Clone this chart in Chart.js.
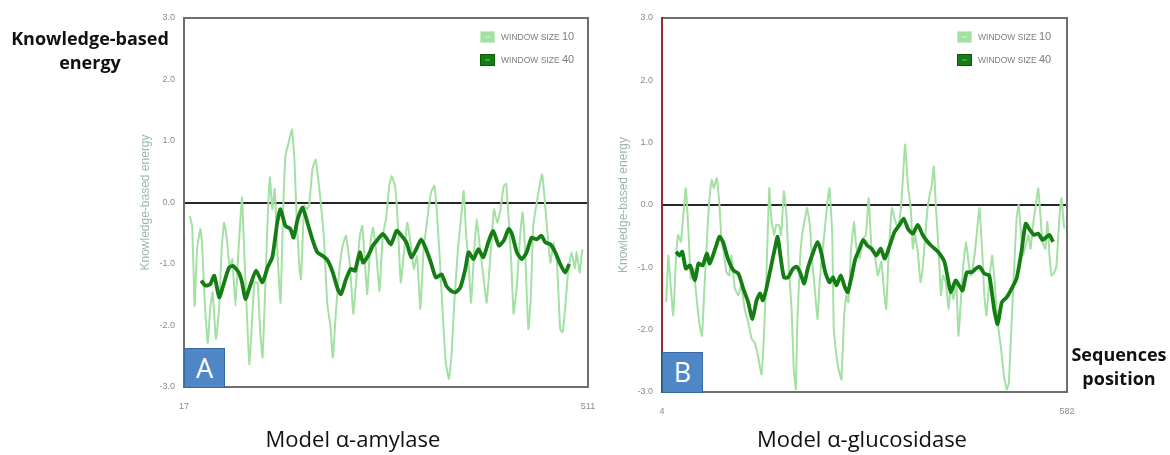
<!DOCTYPE html>
<html><head><meta charset="utf-8">
<script src="https://cdn.jsdelivr.net/npm/chart.js@4.4.1/dist/chart.umd.min.js"></script>
<style>
html,body{margin:0;padding:0;background:#fff;width:1170px;height:455px;overflow:hidden;position:relative;font-family:"Open Sans",sans-serif}
canvas{position:absolute;top:0}
.lbl{position:absolute;font-weight:700;color:#111;text-align:center;line-height:24px;font-size:18px;white-space:nowrap}
.cap{position:absolute;font-size:22px;color:#111;transform:translateX(-50%);white-space:nowrap;line-height:26px}
.tag{position:absolute;background:#4f86c6;border:1px solid #3a6aa5;color:#fff;font-size:27px;line-height:38px;text-align:center;box-sizing:border-box;font-family:"Open Sans",sans-serif}
</style></head><body>
<canvas id="ca" width="475" height="430" style="left:130px"></canvas>
<canvas id="cb" width="475" height="430" style="left:608px"></canvas>
<div class="lbl" style="left:0;top:26px;width:180px">Knowledge-based<br>energy</div>
<div class="lbl" style="left:1067px;top:342px;width:104px">Sequences<br>position</div>
<div class="cap" style="left:353px;top:425px">Model α-amylase</div>
<div class="cap" style="left:862px;top:425px">Model α-glucosidase</div>
<div class="tag" style="left:184px;top:348px;width:41px;height:40px">A</div>
<div class="tag" style="left:662px;top:352px;width:41px;height:41px">B</div>
<script>
// ---- Panel A : Model α-amylase ----
const amylaseRange = [17, 511];
const amylaseW10Pos = [24,27,30,33,37,39,42,46,49,52,56,60,63,66,69,73,76,80,83,86,88,91,94,97,101,103,107,110,113,116,119,122,125,128,131,135,138,141,145,149,152,155,158,160,164,167,170,174,178,183,185,188,192,196,199,203,207,211,215,220,224,228,232,235,238,241,245,248,252,256,260,264,268,271,275,278,282,286,290,294,298,302,306,310,315,319,323,326,330,334,337,341,344,348,352,356,359,362,365,368,372,375,379,383,387,392,396,400,404,408,411,414,417,420,424,428,431,434,438,441,444,449,451,455,458,461,465,469,473,477,480,483,487,491,495,497,501,504];
const amylaseW10Val = [-0.22,-0.38,-1.68,-0.76,-0.43,-0.65,-1.52,-2.28,-1.73,-1.46,-2.22,-1.73,-0.76,-0.33,-0.54,-1.08,-0.92,-1.68,-0.92,-0.27,0.08,-0.92,-1.84,-2.63,-1.73,-1.30,-1.30,-2.06,-2.52,-1.52,-0.38,0.41,-0.11,0.22,-0.76,-1.63,-0.22,0.76,0.98,1.19,0.70,-0.33,-1.03,-1.25,-0.05,-0.11,-0.05,0.54,0.70,0.16,-0.11,-0.54,-1.63,-2.01,-2.52,-1.73,-1.08,-0.70,-0.54,-1.03,-1.81,-1.19,-0.54,-0.38,-0.92,-1.49,-0.65,-0.41,-0.81,-1.44,-0.54,-0.27,0.27,0.43,0.27,-0.22,-1.30,-0.81,-0.33,-0.65,-1.08,-0.87,-1.73,-0.76,-0.22,0.16,0.27,-0.11,-0.98,-1.95,-2.60,-2.87,-2.50,-1.52,-0.76,-0.22,0.19,-0.54,-0.98,-1.63,-0.76,-0.27,-0.76,-1.19,-1.63,-0.81,-0.11,-0.33,-0.11,0.27,0.30,-0.27,-0.92,-1.81,-1.36,-0.54,-0.16,-0.76,-2.06,-1.57,-0.38,0.05,0.22,0.46,0.05,-0.43,-0.98,-0.65,-0.98,-2.06,-2.11,-1.73,-1.08,-0.81,-1.08,-0.81,-1.14,-0.76];
const amylaseW40Pos = [38,43,49,54,60,65,72,77,84,88,92,98,105,113,119,125,131,135,141,147,151,156,162,168,174,180,187,193,199,205,209,215,221,226,232,236,242,248,254,260,264,270,277,283,289,295,301,307,313,319,325,332,338,344,349,355,361,365,371,377,383,389,395,402,408,414,418,424,430,436,442,448,454,459,465,471,477,483,488];
const amylaseW40Val = [-1.27,-1.35,-1.33,-1.19,-1.54,-1.35,-1.06,-1.03,-1.14,-1.30,-1.57,-1.35,-1.11,-1.30,-1.06,-0.89,-0.33,-0.11,-0.38,-0.43,-0.57,-0.27,-0.08,-0.33,-0.60,-0.81,-0.87,-0.95,-1.14,-1.41,-1.49,-1.25,-1.08,-1.11,-0.81,-0.98,-0.87,-0.70,-0.60,-0.51,-0.57,-0.68,-0.46,-0.54,-0.65,-0.89,-0.76,-0.60,-0.76,-0.98,-1.22,-1.17,-1.36,-1.44,-1.46,-1.38,-1.08,-0.81,-0.92,-0.76,-0.89,-0.65,-0.46,-0.70,-0.62,-0.43,-0.51,-0.81,-0.92,-0.81,-0.57,-0.60,-0.54,-0.65,-0.68,-0.81,-1.00,-1.14,-1.00];

// ---- Panel B : Model α-glucosidase ----
const glucosidaseRange = [4, 582];
const glucosidaseW10Pos = [10,13,16,20,24,27,31,34,38,42,45,49,53,57,61,64,68,71,75,78,82,86,89,92,96,100,103,108,113,117,122,127,132,136,141,146,149,153,157,160,164,167,171,174,178,182,185,189,192,195,197,201,204,208,211,215,218,222,226,229,232,236,240,243,247,249,253,256,260,264,267,270,274,278,281,286,291,295,299,303,307,312,317,321,324,327,332,336,341,345,349,351,355,359,362,365,369,373,376,379,383,387,389,392,395,399,402,405,409,413,416,420,424,427,431,434,438,442,445,450,453,457,461,464,467,471,475,478,483,488,492,496,499,503,507,510,513,516,519,523,527,530,534,537,541,544,547,551,554,557,560,564,567,571,574,578];
const glucosidaseW10Val = [-1.56,-0.81,-1.24,-1.77,-0.86,-0.48,-0.59,-0.22,0.27,-0.48,-1.18,-1.02,-1.45,-1.88,-2.10,-1.45,-0.59,0.00,0.40,0.27,0.43,0.00,-0.59,-0.75,-1.08,-1.13,-0.81,-1.34,-1.45,-1.29,-1.67,-1.88,-2.15,-2.20,-2.42,-2.72,-2.20,-1.13,0.27,-0.22,-0.48,-0.32,-0.32,-0.48,0.22,-0.22,-1.02,-1.67,-2.63,-2.96,-1.94,-0.86,-0.48,-0.22,-0.05,-0.32,-0.86,-1.34,-1.83,-1.24,-0.86,-0.43,0.05,0.27,-0.48,-1.94,-2.42,-2.63,-2.80,-1.77,-1.45,-1.56,-0.70,-0.27,-0.65,-0.86,-0.54,-0.48,0.11,-0.70,-0.75,-1.13,-0.91,-1.40,-1.67,-0.91,-0.05,-0.22,-0.38,-0.05,0.65,0.97,0.32,-0.05,-0.70,-0.48,-0.75,-1.24,-1.02,-0.59,-0.05,0.22,0.32,0.62,-0.05,-0.75,-1.45,-1.13,-1.24,-1.67,-1.29,-1.51,-1.24,-2.10,-1.45,-0.97,-0.59,-0.97,-1.13,-0.81,-0.48,-0.05,-0.75,-1.45,-1.77,-1.24,-0.81,-1.13,-1.88,-2.31,-2.74,-2.96,-2.85,-1.88,-0.91,-0.22,0.00,-0.38,-0.81,-0.65,-0.48,-0.70,-0.27,-0.05,0.27,-0.16,-0.59,-0.70,-0.27,-0.81,-1.13,-1.08,-0.97,-0.22,0.11,-0.38];
const glucosidaseW40Pos = [24,29,33,38,44,51,56,62,68,72,80,86,91,98,106,113,120,127,133,139,144,148,153,159,165,169,173,178,184,191,196,201,207,212,220,226,231,237,243,248,253,259,265,269,274,280,286,291,297,303,310,316,322,329,336,343,349,355,362,369,376,383,388,393,400,407,412,416,423,428,433,439,446,452,457,464,471,478,483,489,496,503,510,517,523,529,535,541,547,553,557,562];
const glucosidaseW40Val = [-0.75,-0.81,-0.75,-1.02,-0.97,-1.21,-0.94,-0.97,-0.78,-0.94,-0.70,-0.51,-0.59,-0.86,-1.05,-1.10,-1.34,-1.56,-1.83,-1.53,-1.42,-1.53,-1.34,-1.02,-0.70,-0.51,-0.81,-1.16,-1.16,-1.02,-0.99,-1.08,-1.26,-1.02,-0.75,-0.59,-0.75,-1.08,-1.24,-1.16,-1.29,-1.13,-1.32,-1.40,-1.18,-0.86,-0.70,-0.56,-0.65,-0.70,-0.81,-0.70,-0.86,-0.65,-0.43,-0.32,-0.22,-0.38,-0.46,-0.32,-0.48,-0.59,-0.65,-0.70,-0.78,-0.91,-1.18,-1.40,-1.21,-1.29,-1.37,-1.08,-1.08,-1.02,-0.99,-1.10,-1.13,-1.67,-1.91,-1.56,-1.48,-1.34,-1.18,-0.75,-0.30,-0.40,-0.48,-0.46,-0.56,-0.51,-0.48,-0.59];

// ---- shared labels / ticks ----
const seriesLabels = ['Window size 10', 'Window size 40'];
const yTicks = [-3, -2, -1, 0, 1, 2, 3];
const yAxisTitle = 'Knowledge-based energy';

const toPts = (pos, val) => pos.map((p, i) => ({x: p, y: val[i]}));

const framePlugin = {
  id: 'frame',
  afterDatasetsDraw(chart, args, opts) {
    const {ctx, chartArea: {left, top, right, bottom}} = chart;
    ctx.save();
    ctx.lineWidth = 2;
    ctx.strokeStyle = '#6e6e6e';
    ctx.beginPath();
    ctx.moveTo(left, top); ctx.lineTo(right, top); ctx.lineTo(right, bottom); ctx.lineTo(left, bottom);
    ctx.stroke();
    ctx.strokeStyle = opts.leftColor || '#6e6e6e';
    ctx.beginPath(); ctx.moveTo(left, top - 1); ctx.lineTo(left, bottom + 1); ctx.stroke();
    ctx.restore();
  }
};

const legendPlugin = {
  id: 'insideLegend',
  afterDraw(chart, args, opts) {
    const {ctx, chartArea: {top, right}} = chart;
    ctx.save();
    chart.data.datasets.forEach((ds, i) => {
      const sx = right - opts.offset, cy = top + 19 + i * 23;
      ctx.fillStyle = ds.borderColor;
      ctx.fillRect(sx, cy - 6, 15, 12);
      ctx.strokeStyle = i === 0 ? '#c4efc4' : '#0a5a0a';
      ctx.lineWidth = 1;
      ctx.strokeRect(sx + 0.5, cy - 5.5, 14, 11);
      ctx.strokeStyle = i === 0 ? '#d8f6d8' : '#6fbf6f';
      ctx.beginPath(); ctx.moveTo(sx + 5, cy); ctx.lineTo(sx + 10, cy); ctx.stroke();
      const parts = ds.label.split(' ');
      const num = parts.pop();
      const word = parts.join(' ').toUpperCase();
      ctx.fillStyle = '#7d7d7d';
      ctx.textBaseline = 'middle';
      ctx.textAlign = 'left';
      ctx.font = '8.5px "Liberation Sans", sans-serif';
      ctx.fillText(word, sx + 21, cy + 0.5);
      const w = ctx.measureText(word + ' ').width;
      ctx.font = '11px "Liberation Sans", sans-serif';
      ctx.fillText(num, sx + 21 + w, cy);
    });
    ctx.restore();
  }
};

function makeChart(id, range, p10, v10, p40, v40, xAxisH, padRight, leftColor, legOffset) {
  return new Chart(document.getElementById(id), {
    type: 'line',
    data: {
      datasets: [
        {label: seriesLabels[0], data: toPts(p10, v10), borderColor: '#a3e0a3', borderWidth: 2, pointRadius: 0, tension: 0.12, order: 2},
        {label: seriesLabels[1], data: toPts(p40, v40), borderColor: '#147e14', borderWidth: 3.8, pointRadius: 0, tension: 0.2, order: 1}
      ]
    },
    options: {
      responsive: false,
      animation: false,
      events: [],
      layout: {padding: {left: 0, right: padRight, top: 18, bottom: 0}},
      plugins: {
        legend: {display: false},
        tooltip: {enabled: false},
        frame: {leftColor},
        insideLegend: {offset: legOffset}
      },
      scales: {
        x: {
          type: 'linear', min: range[0], max: range[1],
          afterBuildTicks(s) { s.ticks = range.map(v => ({value: v})); },
          afterFit(s) { s.height = xAxisH; s.paddingLeft = 0; s.paddingRight = 0; },
          ticks: {padding: 14, color: '#8a8a8a', font: {size: 9, family: '"Liberation Sans", sans-serif'}, maxRotation: 0, autoSkip: false, callback: v => String(v)},
          grid: {display: false, drawTicks: false},
          border: {display: false}
        },
        y: {
          min: yTicks[0], max: yTicks[yTicks.length - 1],
          afterBuildTicks(s) { s.ticks = yTicks.map(v => ({value: v})); },
          afterFit(s) { s.width = 54; s.paddingTop = 0; s.paddingBottom = 0; },
          ticks: {padding: 9, color: '#8a8a8a', font: {size: 9, family: '"Liberation Sans", sans-serif'}, callback: v => Number(v).toFixed(1)},
          grid: {drawTicks: false, lineWidth: 2, color: c => (c.tick && c.tick.value === 0) ? '#262626' : 'rgba(0,0,0,0)'},
          border: {display: false},
          title: {display: true, text: yAxisTitle, color: '#9cb6b6', font: {size: 12, family: '"Liberation Sans", sans-serif'}, padding: {top: 8, bottom: 0}}
        }
      }
    },
    plugins: [framePlugin, legendPlugin]
  });
}

makeChart('ca', amylaseRange, amylaseW10Pos, amylaseW10Val, amylaseW40Pos, amylaseW40Val, 43, 17, '#6e6e6e', 108);
makeChart('cb', glucosidaseRange, glucosidaseW10Pos, glucosidaseW10Val, glucosidaseW40Pos, glucosidaseW40Val, 38, 16, '#9b2a2a', 110);
</script>
</body></html>
